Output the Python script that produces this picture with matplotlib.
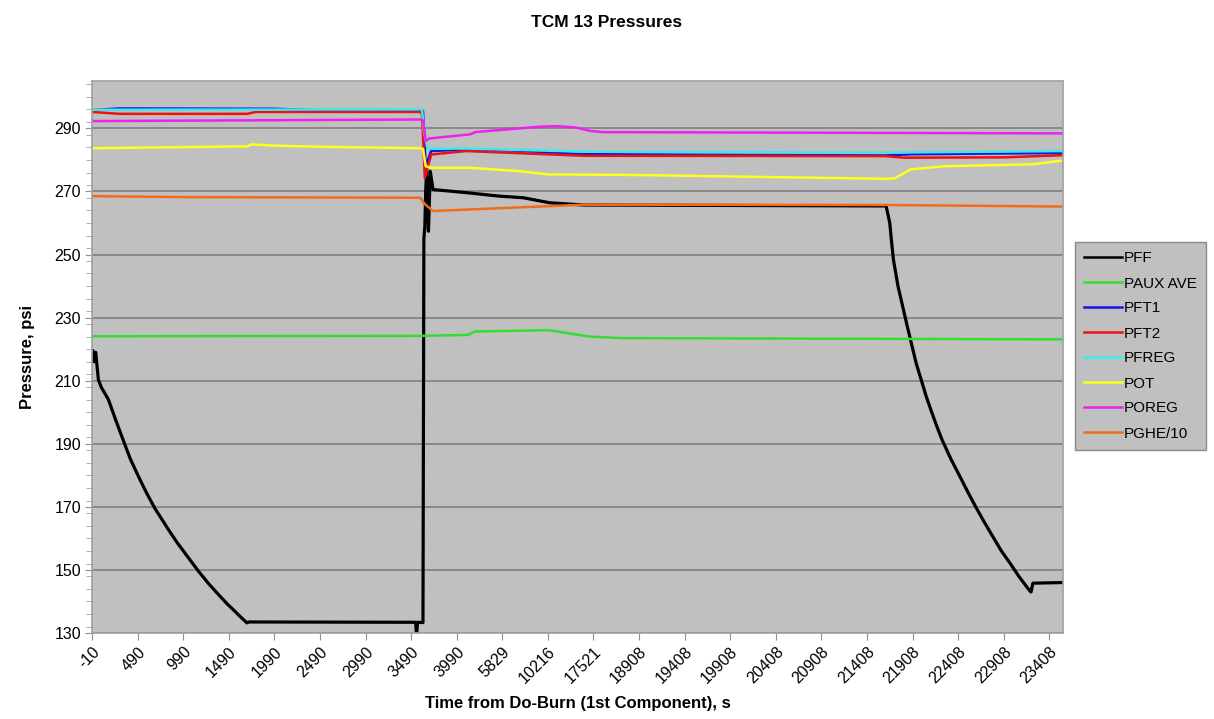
import numpy as np
import matplotlib.pyplot as plt
from matplotlib.ticker import MultipleLocator

plt.rcParams['font.family'] = ['Liberation Sans', 'DejaVu Sans']

# category axis: one tick label every 50 samples
SAMPLES_PER_LABEL = 50
time_labels = ['-10', '490', '990', '1490', '1990', '2490', '2990', '3490', '3990',
               '5829', '10216', '17521', '18908', '19408', '19908', '20408', '20908',
               '21408', '21908', '22408', '22908', '23408']
n_samples = 1065

# (sample index, pressure psi) pairs for each channel
pff_idx = [0, 1, 2, 4, 7, 10, 18, 26, 34, 42, 51, 60, 69, 84, 93, 102, 117, 128, 139, 148,
           157, 164, 170, 172, 355, 356, 357, 363, 364, 365, 366, 367, 368, 369, 371, 374,
           411, 447, 473, 502, 539, 871, 875, 877, 879, 884, 890, 894, 899, 904, 910, 915,
           921, 926, 932, 942, 952, 961, 970, 979, 988, 997, 1007, 1017, 1028, 1030, 1032,
           1065]
pff_val = [218.5, 219.5, 216.0, 219.0, 210.3, 208.0, 204.0, 197.5, 191.3, 185.2, 179.6,
           174.3, 169.5, 162.7, 158.8, 155.3, 149.5, 145.6, 142.1, 139.3, 136.8, 134.8, 133.2,
           133.5, 133.4, 129.0, 133.4, 133.3, 255.0, 258.6, 270.0, 277.0, 265.0, 257.4, 276.4,
           270.6, 269.6, 268.5, 268.0, 266.4, 265.7, 265.4, 260.0, 254.0, 248.4, 240.0, 232.5,
           227.5, 221.5, 215.5, 209.8, 205.0, 200.0, 196.0, 191.5, 185.2, 179.6, 174.5, 169.6,
           165.0, 160.6, 156.2, 152.1, 147.8, 143.6, 143.0, 145.8, 146.0]

paux_idx = [0, 359, 412, 420, 500, 510, 545, 580, 1065]
paux_val = [224.1, 224.2, 224.5, 225.6, 226.0, 225.6, 224.0, 223.5, 223.1]

pft1_idx = [0, 30, 200, 250, 362, 363, 366, 372, 410, 460, 540, 870, 900, 1065]
pft1_val = [295.8, 296.3, 296.2, 295.7, 295.6, 295.5, 278.0, 282.8, 283.3, 283.0, 281.8,
            281.4, 281.8, 282.2]

pft2_idx = [0, 30, 170, 180, 360, 362, 365, 372, 410, 540, 870, 890, 1000, 1065]
pft2_val = [295.2, 294.6, 294.6, 295.2, 295.2, 294.5, 274.3, 281.7, 282.8, 281.3, 281.2,
            280.7, 280.8, 281.5]

pfreg_idx = [0, 362, 364, 368, 410, 540, 870, 1065]
pfreg_val = [295.9, 296.0, 289.0, 283.5, 283.6, 282.6, 282.3, 282.8]

pot_idx = [0, 60, 170, 175, 200, 262, 360, 363, 366, 372, 415, 470, 500, 600, 710, 870, 880,
           898, 935, 1032, 1065]
pot_val = [283.7, 283.9, 284.3, 284.9, 284.5, 284.1, 283.7, 283.5, 278.0, 277.5, 277.5,
           276.4, 275.4, 275.2, 274.7, 274.0, 274.1, 277.0, 278.0, 278.6, 279.8]

poreg_idx = [0, 360, 363, 366, 370, 415, 420, 440, 490, 508, 530, 546, 560, 1065]
poreg_val = [292.3, 292.8, 292.5, 286.0, 286.8, 288.1, 288.8, 289.3, 290.5, 290.7, 290.3,
             289.2, 288.8, 288.4]

pghe_idx = [0, 100, 360, 365, 374, 540, 870, 1065]
pghe_val = [268.5, 268.2, 268.0, 266.0, 263.8, 265.8, 265.7, 265.2]

series = [
    ('PFF', pff_idx, pff_val, '#000000', 2.3),
    ('PAUX AVE', paux_idx, paux_val, '#33DD33', 1.8),
    ('PFT1', pft1_idx, pft1_val, '#1414E6', 1.8),
    ('PFT2', pft2_idx, pft2_val, '#EE1111', 1.8),
    ('PFREG', pfreg_idx, pfreg_val, '#3BEAEA', 1.8),
    ('POT', pot_idx, pot_val, '#FFFF1A', 1.8),
    ('POREG', poreg_idx, poreg_val, '#EE22EE', 1.8),
    ('PGHE/10', pghe_idx, pghe_val, '#F26B1D', 1.8),
]

fig = plt.figure(figsize=(12.14, 7.19), dpi=100)
ax = fig.add_axes([0.0758, 0.1196, 0.7998, 0.7677])
ax.set_facecolor('#C0C0C0')

for name, xs, ys, color, lw in series:
    ax.plot(xs, ys, color=color, lw=lw, label=name, solid_joinstyle='round')

ax.set_xlim(0, n_samples)
ax.set_ylim(130, 305)
ax.yaxis.set_minor_locator(MultipleLocator(4))
ax.set_yticks(np.arange(130, 291, 20))
ax.grid(axis='y', which='major', color='#858585', lw=1.3)
ax.set_axisbelow(True)

ax.set_xticks(np.arange(len(time_labels)) * SAMPLES_PER_LABEL)
ax.set_xticklabels(time_labels, rotation=45, ha='right', rotation_mode='anchor')

ax.tick_params(axis='both', which='major', labelsize=11.5, length=5, color='#909090',
               direction='out', pad=3)
ax.tick_params(axis='y', which='minor', length=4, color='#A0A0A0', direction='out')
for side in ax.spines.values():
    side.set_color('#A0A0A0')
    side.set_linewidth(1.2)

ax.set_ylabel('Pressure, psi', fontsize=12, fontweight='bold', labelpad=14)
ax.set_xlabel('Time from Do-Burn (1st Component), s', fontsize=12, fontweight='bold',
              labelpad=7)
fig.text(0.5, 0.969, 'TCM 13 Pressures', ha='center', va='center', fontsize=12.5,
         fontweight='bold')

leg = ax.legend(loc='center left', bbox_to_anchor=(1075 / 1214, 1 - 346 / 719),
                bbox_transform=fig.transFigure, fontsize=11, frameon=True, fancybox=False,
                handlelength=2.5, handletextpad=0.1, labelspacing=0.72, borderpad=0.6,
                borderaxespad=0)
leg.get_frame().set_facecolor('#C0C0C0')
leg.get_frame().set_edgecolor('#8A8A8A')
leg.get_frame().set_alpha(1)
for handle in leg.get_lines():
    handle.set_linewidth(1.8)

fig.savefig('out.png', dpi=100)
